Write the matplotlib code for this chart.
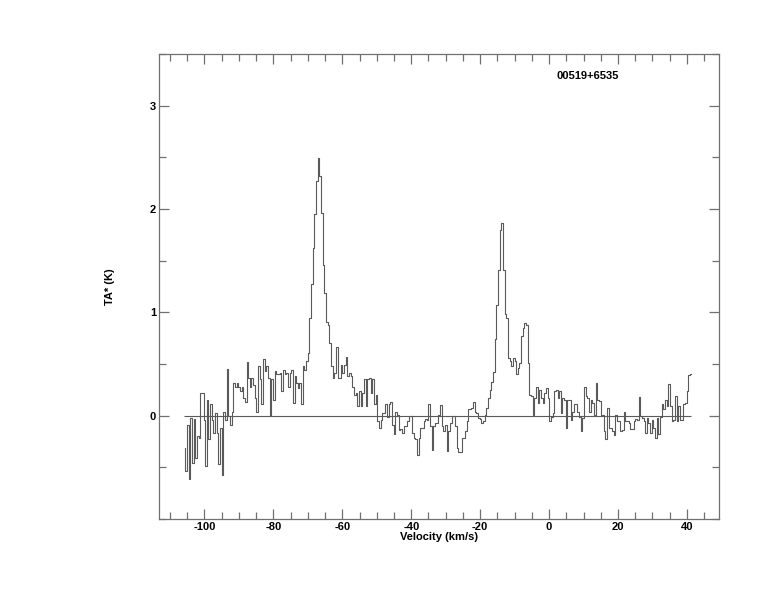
import numpy as np
import matplotlib
matplotlib.use("Agg")
import matplotlib.pyplot as plt
from matplotlib.ticker import MultipleLocator

# Spectrum of 00519+6535, antenna temperature per channel
source_name = "00519+6535"
channel_start = -105.8   # km/s, centre of first channel
channel_width = 0.48     # km/s

ta_k = [
    # -105.8 .. -78.9
    -0.31, -0.54, -0.09, -0.61, -0.02, -0.46, -0.03, -0.41, -0.20, -0.22,
    0.22, 0.22, -0.04, -0.49, 0.15, -0.23, 0.11, -0.04, -0.17, 0.03,
    -0.17, -0.47, -0.12, -0.57, 0.04, -0.04, 0.45, 0.00, -0.09, 0.04,
    0.32, 0.28, 0.32, 0.28, 0.24, 0.28, 0.17, 0.13, 0.52, 0.36,
    0.28, 0.36, 0.30, 0.17, 0.04, 0.48, 0.35, 0.11, 0.55, 0.43,
    0.48, 0.36, 0.00, 0.35, 0.15, 0.43, 0.40,
    # first line, around -67 km/s
    0.40, 0.41, 0.24, 0.44, 0.40, 0.41, 0.28, 0.41, 0.44, 0.12,
    0.38, 0.32, 0.27, 0.32, 0.11, 0.48, 0.44, 0.53, 0.61, 0.95,
    1.27, 1.62, 1.95, 2.27, 2.49, 2.32, 1.96, 1.46, 1.19, 0.91,
    0.88, 0.70, 0.48, 0.36, 0.41, 0.66, 0.36, 0.36, 0.49, 0.41,
    0.49, 0.57, 0.38, 0.41, 0.38, 0.28, 0.20, 0.22, 0.09, 0.24,
    0.09, 0.22, 0.35, 0.09, 0.35, 0.36, 0.22, 0.35, 0.11, 0.20,
    -0.05, -0.12, -0.04, 0.03, 0.03, 0.11, -0.01,
    # trough between the lines
    0.11, 0.13, -0.09, -0.18, 0.04, 0.01, -0.14, -0.13, -0.17, -0.10,
    -0.10, -0.05, 0.00, 0.00, -0.17, -0.22, -0.23, -0.38, -0.22, -0.12,
    -0.12, -0.05, -0.03, -0.04, 0.11, -0.10, -0.33, -0.10, -0.07, -0.07,
    0.01, 0.10, -0.10, -0.15, -0.09, -0.34, -0.15, -0.07, 0.00, 0.00,
    -0.10, -0.31, -0.35, -0.35, -0.22, -0.22, -0.15, -0.05, 0.06, 0.06,
    0.07, 0.13, 0.04, 0.03, -0.02, -0.03, -0.07, -0.05, 0.01, 0.07,
    0.17, 0.25, 0.33,
    # second line, around -13 km/s
    0.42, 0.74, 1.07, 1.41, 1.80, 1.86, 1.41, 0.98, 0.95, 0.56,
    0.53, 0.48, 0.56, 0.53, 0.40, 0.46, 0.51, 0.77, 0.85, 0.90,
    0.88, 0.51, 0.20, 0.19, 0.01, 0.17, 0.28, 0.12, 0.25, 0.17,
    0.12, 0.22, 0.27, 0.17, -0.05, -0.01, 0.03, 0.24, 0.25, 0.17,
    0.24, 0.03, 0.17, 0.15, -0.12,
    # 6 .. 42 km/s
    0.15, 0.15, -0.04, 0.04, 0.11, 0.11, 0.04, -0.01, -0.15, -0.02,
    0.28, 0.19, 0.17, 0.04, 0.15, 0.12, 0.01, 0.32, 0.15, 0.14,
    0.01, 0.01, -0.15, -0.23, 0.07, -0.12, -0.12, -0.15, -0.19, 0.01,
    -0.05, -0.05, -0.15, -0.14, 0.04, -0.05, -0.05, -0.07, -0.13, -0.13,
    -0.05, -0.03, -0.04, 0.18, 0.00, -0.02, -0.05, -0.17, -0.02, -0.07,
    -0.17, -0.04, -0.12, -0.22, -0.02, -0.18, -0.01, 0.11, 0.06, 0.15,
    0.09, 0.31, 0.09, -0.05, -0.04, 0.19, -0.05, 0.09, -0.04, -0.04,
    0.11, 0.12, 0.24, 0.39, 0.40,
]

x_major = 20
x_minor = 5
y_major = 1
y_minor = 0.5

velocity = channel_start + channel_width * np.arange(len(ta_k))

plt.rcParams['font.family'] = ['Liberation Sans', 'DejaVu Sans']
plt.rcParams['font.weight'] = 'bold'
plt.rcParams['axes.unicode_minus'] = False

line_col = '#5a5a5a'
frame_col = '#707070'

fig = plt.figure(figsize=(7.74, 6.12), dpi=100)
ax = fig.add_axes([159 / 774, 1 - 519 / 612, 560 / 774, 465 / 612])

ax.step(velocity, ta_k, where='mid', color=line_col, linewidth=0.8)
ax.hlines(0, velocity[0] - channel_width / 2, velocity[-1] + channel_width / 2,
          color=line_col, linewidth=0.8)

ax.set_xlim(-113.2, 49.3)
ax.set_ylim(-1, 3.5)

ax.xaxis.set_major_locator(MultipleLocator(x_major))
ax.xaxis.set_minor_locator(MultipleLocator(x_minor))
ax.yaxis.set_major_locator(MultipleLocator(y_major))
ax.yaxis.set_minor_locator(MultipleLocator(y_minor))
ax.set_yticks([0, 1, 2, 3])

ax.tick_params(which='both', direction='in', top=True, right=True,
               color=frame_col, width=0.9, labelsize=8, pad=2)
ax.tick_params(which='major', length=7)
ax.tick_params(which='minor', length=5)
for lab in ax.get_xticklabels() + ax.get_yticklabels():
    lab.set_fontweight('bold')

for s in ax.spines.values():
    s.set_color(frame_col)
    s.set_linewidth(0.9)

ax.set_xlabel("Velocity (km/s)", fontsize=8, fontweight='bold', labelpad=0)
ax.set_ylabel("TA* (K)", fontsize=8, fontweight='bold')
ax.yaxis.set_label_coords(-0.078, 0.5)

ax.text(0.765, 0.9525, source_name, transform=ax.transAxes, fontsize=8,
        fontweight='bold', ha='center', va='center')

fig.savefig("out.png", dpi=100)
